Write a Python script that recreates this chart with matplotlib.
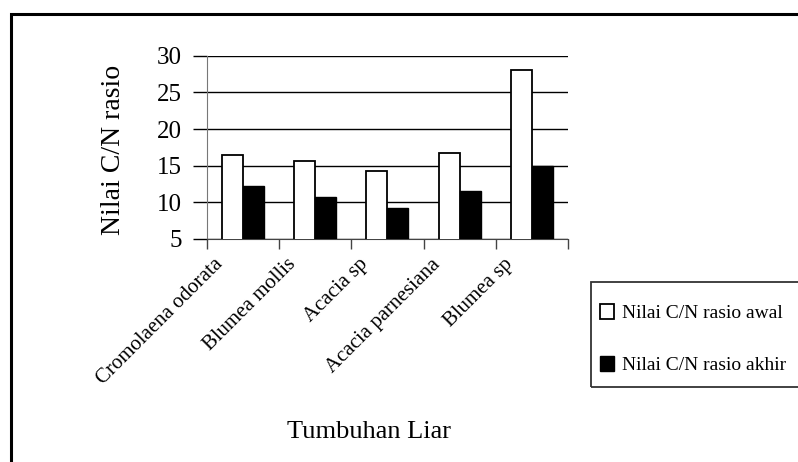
import numpy as np
import matplotlib
matplotlib.use("Agg")
from matplotlib import pyplot as plt
from matplotlib.patches import Rectangle

plt.rcParams['font.family'] = ['Liberation Serif', 'DejaVu Serif']

# C/N ratio per wild plant species
tumbuhan = ["Cromolaena odorata", "Blumea mollis", "Acacia sp",
            "Acacia parnesiana", "Blumea sp"]
cn_awal = [16.4, 15.6, 14.3, 16.7, 28.1]
cn_akhir = [12.2, 10.7, 9.2, 11.6, 15.0]

fig = plt.figure(figsize=(7.98, 4.62), dpi=100, facecolor='w')
ax = fig.add_axes([0.259, 0.483, 0.453, 0.396])

x = np.arange(len(tumbuhan))
w = 0.29
ax.bar(x - w / 2, cn_awal, w, color='white', edgecolor='black', linewidth=1.3,
       label='Nilai C/N rasio awal', zorder=3)
ax.bar(x + w / 2, cn_akhir, w, color='black', edgecolor='black', linewidth=1.0,
       label='Nilai C/N rasio akhir', zorder=3)

ax.set_xlim(-0.5, len(tumbuhan) - 0.5)
ax.set_ylim(5, 30)
ax.set_yticks([5, 10, 15, 20, 25, 30])
ax.yaxis.grid(True, color='black', linewidth=1.0, zorder=0)

# category separators as ticks
ax.set_xticks(np.arange(len(tumbuhan) + 1) - 0.5)
ax.set_xticklabels([])
ax.tick_params(axis='x', direction='out', length=7, width=1, colors='#444444')
ax.tick_params(axis='y', direction='out', length=10, width=1, colors='black',
               labelsize=18, pad=8)
for spine in ['top', 'right']:
    ax.spines[spine].set_visible(False)
ax.spines['left'].set_color('#777777')
ax.spines['bottom'].set_color('#444444')

for i, name in enumerate(tumbuhan):
    ax.text(i - 0.31, 1.9, name, rotation=45, rotation_mode='anchor',
            ha='right', va='center', fontsize=15)

fig.text(0.142, 0.675, 'Nilai C/N rasio', rotation=90, ha='center', va='center',
         fontsize=20)
fig.text(0.463, 0.065, 'Tumbuhan Liar', ha='center', va='center', fontsize=19)

# outer chart frame (runs past the right and bottom edges)
fig.patches.append(Rectangle((0.014, -0.1), 1.2, 1.069, transform=fig.transFigure,
                             fill=False, edgecolor='black', linewidth=2.2))
# legend box
fig.patches.append(Rectangle((0.740, 0.163), 0.4, 0.227, transform=fig.transFigure,
                             fill=False, edgecolor='#333333', linewidth=1.3))
fig.legend(loc='upper left', bbox_to_anchor=(0.742, 0.358), frameon=False,
           fontsize=14, handlelength=0.75, handleheight=0.75, handletextpad=0.4,
           labelspacing=1.75, borderaxespad=0)

fig.savefig('out.png', dpi=100)
